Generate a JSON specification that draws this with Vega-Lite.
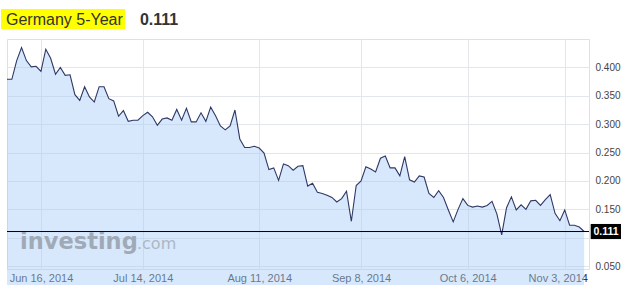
{
  "$schema": "https://vega.github.io/schema/vega-lite/v6.json",
  "width": 582,
  "height": 230,
  "autosize": "none",
  "padding": {"left": 7, "right": 32, "top": 39, "bottom": 16},
  "background": "white",
  "config": {
    "view": {"stroke": "#dde1e6", "strokeWidth": 1},
    "axis": {"title": null, "ticks": false, "domain": false, "gridColor": "#e3e6ea", "gridWidth": 1, "labelFont": "Liberation Sans", "labelColor": "#333333", "labelFontSize": 11, "labelOverlap": false, "labelFlush": false},
    "axisY": {"labelOverlap": false, "labelFontSize": 10, "labelColor": "#444444", "labelPadding": 6, "tickCount": 20}
  },
  "datasets": {
    "yields": [
    {"i":0,"v":0.379},{"i":1,"v":0.379},{"i":2,"v":0.412},{"i":3,"v":0.435},{"i":4,"v":0.412},
    {"i":5,"v":0.401},{"i":6,"v":0.402},{"i":7,"v":0.393},{"i":8,"v":0.432},{"i":9,"v":0.416},
    {"i":10,"v":0.388},{"i":11,"v":0.400},{"i":12,"v":0.386},{"i":13,"v":0.387},{"i":14,"v":0.352},
    {"i":15,"v":0.342},{"i":16,"v":0.366},{"i":17,"v":0.348},{"i":18,"v":0.339},{"i":19,"v":0.366},
    {"i":20,"v":0.366},{"i":21,"v":0.345},{"i":22,"v":0.341},{"i":23,"v":0.314},{"i":24,"v":0.324},
    {"i":25,"v":0.305},{"i":26,"v":0.307},{"i":27,"v":0.307},{"i":28,"v":0.315},{"i":29,"v":0.321},
    {"i":30,"v":0.313},{"i":31,"v":0.298},{"i":32,"v":0.309},{"i":33,"v":0.311},{"i":34,"v":0.307},
    {"i":35,"v":0.326},{"i":36,"v":0.307},{"i":37,"v":0.328},{"i":38,"v":0.304},{"i":39,"v":0.304},
    {"i":40,"v":0.320},{"i":41,"v":0.305},{"i":42,"v":0.330},{"i":43,"v":0.315},{"i":44,"v":0.297},
    {"i":45,"v":0.290},{"i":46,"v":0.297},{"i":47,"v":0.325},{"i":48,"v":0.274},{"i":49,"v":0.259},
    {"i":50,"v":0.259},{"i":51,"v":0.261},{"i":52,"v":0.258},{"i":53,"v":0.249},{"i":54,"v":0.220},
    {"i":55,"v":0.223},{"i":56,"v":0.201},{"i":57,"v":0.230},{"i":58,"v":0.227},{"i":59,"v":0.219},
    {"i":60,"v":0.226},{"i":61,"v":0.227},{"i":62,"v":0.191},{"i":63,"v":0.196},{"i":64,"v":0.180},
    {"i":65,"v":0.178},{"i":66,"v":0.175},{"i":67,"v":0.171},{"i":68,"v":0.163},{"i":69,"v":0.169},
    {"i":70,"v":0.182},{"i":71,"v":0.129},{"i":72,"v":0.192},{"i":73,"v":0.200},{"i":74,"v":0.225},
    {"i":75,"v":0.221},{"i":76,"v":0.216},{"i":77,"v":0.240},{"i":78,"v":0.244},{"i":79,"v":0.223},
    {"i":80,"v":0.223},{"i":81,"v":0.209},{"i":82,"v":0.243},{"i":83,"v":0.202},{"i":84,"v":0.198},
    {"i":85,"v":0.209},{"i":86,"v":0.207},{"i":87,"v":0.178},{"i":88,"v":0.171},{"i":89,"v":0.183},
    {"i":90,"v":0.171},{"i":91,"v":0.149},{"i":92,"v":0.128},{"i":93,"v":0.150},{"i":94,"v":0.169},
    {"i":95,"v":0.157},{"i":96,"v":0.154},{"i":97,"v":0.156},{"i":98,"v":0.154},{"i":99,"v":0.157},
    {"i":100,"v":0.164},{"i":101,"v":0.142},{"i":102,"v":0.105},{"i":103,"v":0.153},{"i":104,"v":0.172},
    {"i":105,"v":0.149},{"i":106,"v":0.158},{"i":107,"v":0.150},{"i":108,"v":0.165},{"i":109,"v":0.166},
    {"i":110,"v":0.157},{"i":111,"v":0.167},{"i":112,"v":0.176},{"i":113,"v":0.143},{"i":114,"v":0.130},
    {"i":115,"v":0.149},{"i":116,"v":0.122},{"i":117,"v":0.122},{"i":118,"v":0.119},{"i":119,"v":0.111}
    ],
    "one": [{}]
  },
  "layer": [
    {
      "data": {"name": "yields"},
      "mark": {"type": "area", "fill": "#a6cdf8", "fillOpacity": 0.45},
      "encoding": {
        "x": {"field": "i", "type": "quantitative",
          "scale": {"domain": [0, 120], "nice": false, "zero": false},
          "axis": {"values": [7, 28, 52, 73, 95, 115], "grid": true, "labelPadding": 3, "tickCount": 20,
            "labelExpr": "datum.value==7?'Jun 16, 2014':datum.value==28?'Jul 14, 2014':datum.value==52?'Aug 11, 2014':datum.value==73?'Sep 8, 2014':datum.value==95?'Oct 6, 2014':'Nov 3, 2014'",
            "labelOffset": {"condition": {"test": "datum.value == 115", "value": -7}, "value": 0}}},
        "y": {"field": "v", "type": "quantitative",
          "scale": {"domain": [0.045, 0.45], "nice": false, "zero": false},
          "axis": {"orient": "right", "values": [0.05, 0.1, 0.15, 0.2, 0.25, 0.3, 0.35, 0.4], "tickCount": 20, "labelExpr": "datum.value == 0.1 ? '' : format(datum.value, '.3f')", "grid": true}}
      }
    },
    {
      "data": {"name": "one"},
      "mark": {"type": "text", "font": "DejaVu Sans", "fontWeight": "bold", "fontSize": 22.5, "color": "#a0aab7", "align": "left", "baseline": "alphabetic", "text": "investing"},
      "encoding": {"x": {"datum": 2.7}, "y": {"datum": 0.08}}
    },
    {
      "data": {"name": "one"},
      "mark": {"type": "text", "font": "DejaVu Sans", "fontSize": 16, "color": "#adb7c3", "align": "left", "baseline": "alphabetic", "text": ".com"},
      "encoding": {"x": {"datum": 26.8}, "y": {"datum": 0.08}}
    },
    {
      "data": {"name": "yields"},
      "mark": {"type": "line", "color": "#2e3864", "strokeWidth": 1.1},
      "encoding": {"x": {"field": "i", "type": "quantitative"}, "y": {"field": "v", "type": "quantitative"}}
    },
    {
      "data": {"name": "one"},
      "mark": {"type": "rule", "color": "#000000", "strokeWidth": 1},
      "encoding": {"y": {"datum": 0.111}}
    },
    {
      "data": {"name": "one"},
      "mark": {"type": "rect", "color": "#000000"},
      "encoding": {"x": {"datum": 120.35}, "x2": {"datum": 126.7}, "y": {"datum": 0.1243}, "y2": {"datum": 0.0977}}
    },
    {
      "data": {"name": "one"},
      "mark": {"type": "text", "font": "Liberation Sans", "fontWeight": "bold", "fontSize": 10.5, "color": "#ffffff", "align": "center", "baseline": "middle", "text": "0.111"},
      "encoding": {"x": {"datum": 123.5}, "y": {"datum": 0.111}}
    },
    {
      "data": {"name": "one"},
      "mark": {"type": "rect", "color": "#ffff00"},
      "encoding": {"x": {"datum": -1.24}, "x2": {"datum": 24.33}, "y": {"datum": 0.5028}, "y2": {"datum": 0.4676}}
    },
    {
      "data": {"name": "one"},
      "mark": {"type": "text", "font": "Liberation Sans", "fontSize": 16, "color": "#333333", "align": "left", "baseline": "alphabetic", "text": "Germany 5-Year"},
      "encoding": {"x": {"datum": -0.2}, "y": {"datum": 0.4747}}
    },
    {
      "data": {"name": "one"},
      "mark": {"type": "text", "font": "Liberation Sans", "fontWeight": "bold", "fontSize": 16, "color": "#333333", "align": "left", "baseline": "alphabetic", "text": "0.111"},
      "encoding": {"x": {"datum": 27.4}, "y": {"datum": 0.4747}}
    }
  ]
}
